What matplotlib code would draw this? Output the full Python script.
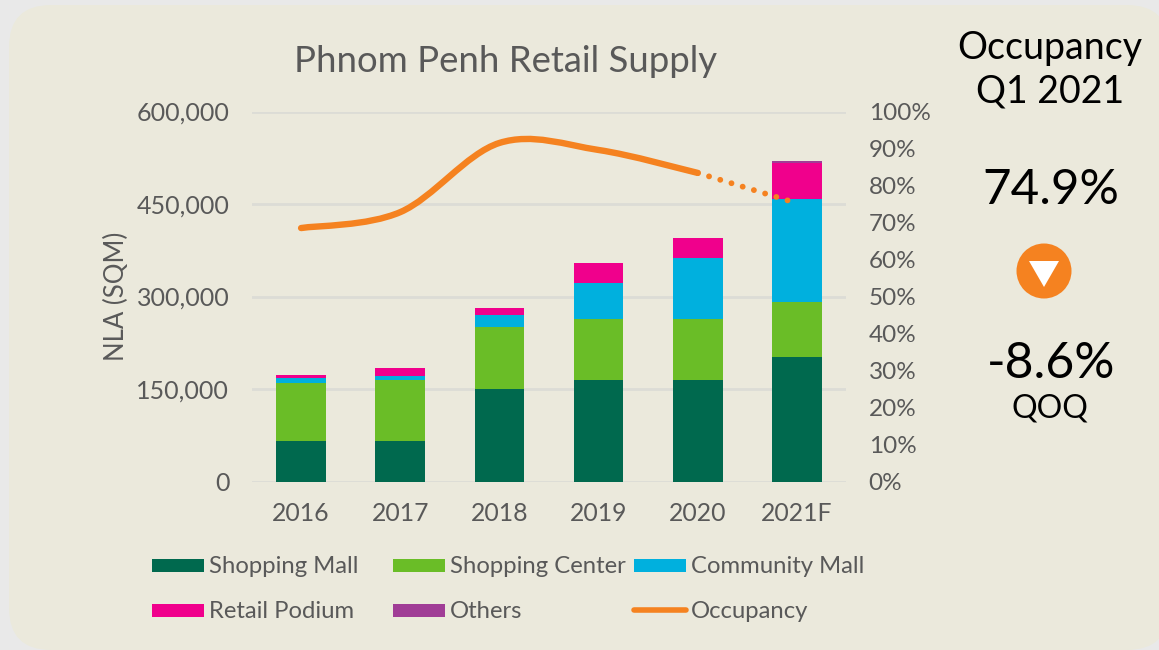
import numpy as np
import matplotlib
matplotlib.use("Agg")
import matplotlib.pyplot as plt
from matplotlib.patches import FancyBboxPatch, Rectangle, Circle, Polygon, PathPatch
from matplotlib.lines import Line2D
from matplotlib.path import Path

plt.rcParams['font.family'] = ['Lato', 'DejaVu Sans']

W, H = 1159, 650

years = ["2016", "2017", "2018", "2019", "2020", "2021F"]
shopping_mall = [65000, 65000, 150000, 165000, 165000, 202000]
shopping_center = [95000, 99000, 100000, 99000, 99000, 89000]
community_mall = [8000, 7000, 20000, 58000, 99000, 167000]
retail_podium = [4000, 13000, 12000, 33000, 32000, 59000]
others = [0, 0, 0, 0, 0, 3000]
occupancy = [0.685, 0.728, 0.915, 0.896, 0.834, 0.752]

series_names = ["Shopping Mall", "Shopping Center", "Community Mall", "Retail Podium", "Others"]
series_values = [shopping_mall, shopping_center, community_mall, retail_podium, others]
series_colors = ["#00694e", "#6abd27", "#00b0de", "#f0008c", "#a03d96"]

left_ticks = [0, 150000, 300000, 450000, 600000]
right_ticks = [i / 10 for i in range(11)]

GREY = "#595959"
ORANGE = "#f58220"


def px_x(x):
    return x / W


def px_y(y):
    return 1 - y / H


def smooth_path(xs, ys):
    # same kind of smoothed line excel draws
    verts = [(xs[0], ys[0])]
    codes = [Path.MOVETO]
    n = len(xs)
    for i in range(n - 1):
        x0, y0 = (xs[i - 1], ys[i - 1]) if i > 0 else (xs[i], ys[i])
        x3, y3 = (xs[i + 2], ys[i + 2]) if i + 2 < n else (xs[i + 1], ys[i + 1])
        c1 = (xs[i] + (xs[i + 1] - x0) / 6, ys[i] + (ys[i + 1] - y0) / 6)
        c2 = (xs[i + 1] - (x3 - xs[i]) / 6, ys[i + 1] - (y3 - ys[i]) / 6)
        verts += [c1, c2, (xs[i + 1], ys[i + 1])]
        codes += [Path.CURVE4] * 3
    return Path(verts, codes)


fig = plt.figure(figsize=(W / 100, H / 100), dpi=100, facecolor="#e9e9e9")

# Pixel space layer behind the chart for the rounded panel
bg = fig.add_axes([0, 0, 1, 1], zorder=-1)
bg.set_xlim(0, W)
bg.set_ylim(H, 0)
bg.axis("off")
bg.add_patch(FancyBboxPatch((9, 5), 1160, 645, boxstyle="round,pad=0,rounding_size=42",
                            facecolor="#ebe9dc", edgecolor="none"))

ax = fig.add_axes([px_x(251.5), px_y(481.5), 595 / W, 370 / H])
ax.patch.set_alpha(0)

# Stacked bars
x = np.arange(len(years))
bottom = np.zeros(len(years))
for name, vals, color in zip(series_names, series_values, series_colors):
    ax.bar(x, vals, width=0.5, bottom=bottom, color=color, label=name, zorder=3)
    bottom += np.array(vals)

ax.set_xlim(-0.5, 5.5)
ax.set_ylim(0, 600000)
ax.set_yticks(left_ticks)
ax.set_yticklabels([f"{v:,}" for v in left_ticks])
ax.set_xticks(x)
ax.set_xticklabels(years)
ax.set_ylabel("NLA (SQM)", fontsize=18.5, color=GREY, labelpad=5)
ax.tick_params(axis="y", length=0, labelsize=18, labelcolor=GREY, pad=16)
ax.tick_params(axis="x", length=0, labelsize=17.8, labelcolor=GREY, pad=15)
ax.grid(axis="y", color="#dcdcd6", linewidth=2, zorder=0)
ax.set_axisbelow(True)
for s in ax.spines.values():
    s.set_visible(False)

# Occupancy on second axis
ax2 = ax.twinx()
ax2.set_ylim(0, 1)
ax2.set_yticks(right_ticks)
ax2.set_yticklabels([f"{int(round(v * 100))}%" for v in right_ticks])
ax2.tick_params(axis="y", length=0, labelsize=17.5, labelcolor=GREY, pad=16)
for s in ax2.spines.values():
    s.set_visible(False)

ax2.add_patch(PathPatch(smooth_path(list(x[:5]), occupancy[:5]), facecolor="none",
                        edgecolor=ORANGE, linewidth=4.6, capstyle="round", zorder=5))
ax2.plot(x[4:], occupancy[4:], color=ORANGE, linewidth=4.2, zorder=5,
         linestyle=(2.0, (0.01, 2.0)), dash_capstyle="round")

# Title
fig.text(px_x(506), px_y(61), "Phnom Penh Retail Supply", fontsize=26.3, color=GREY,
         ha="center", va="center")

# Legend
legend_x = [152, 393, 634, 152, 393, 634]
legend_y = [565, 565, 565, 610, 610, 610]
for i, (name, color) in enumerate(zip(series_names, series_colors)):
    fig.add_artist(Rectangle((px_x(legend_x[i]), px_y(legend_y[i] + 6.5)), 52 / W, 13 / H,
                             transform=fig.transFigure, facecolor=color, edgecolor="none"))
    fig.text(px_x(legend_x[i] + 57), px_y(legend_y[i] + 1.5), name, fontsize=17.2, color=GREY, va="center")
fig.add_artist(Line2D([px_x(634), px_x(686)], [px_y(610), px_y(610)], transform=fig.transFigure,
                      color=ORANGE, linewidth=4, solid_capstyle="round"))
fig.text(px_x(691), px_y(611.5), "Occupancy", fontsize=17.2, color=GREY, va="center")

# Right hand side callout
fig.text(px_x(1050), px_y(48), "Occupancy", fontsize=27, color="black", ha="center", va="center")
fig.text(px_x(1050), px_y(92), "Q1 2021", fontsize=27, color="black", ha="center", va="center")
fig.text(px_x(1051), px_y(190), "74.9%", fontsize=35.5, color="black", ha="center", va="center")
fig.text(px_x(1051), px_y(364), "-8.6%", fontsize=36, color="black", ha="center", va="center")
fig.text(px_x(1050), px_y(408), "QOQ", fontsize=23, color="black", ha="center", va="center")

# Down arrow badge, drawn in pixel space
overlay = fig.add_axes([0, 0, 1, 1])
overlay.set_xlim(0, W)
overlay.set_ylim(H, 0)
overlay.axis("off")
overlay.patch.set_alpha(0)
overlay.add_patch(Circle((1044, 271), 27.5, facecolor=ORANGE, edgecolor="none"))
overlay.add_patch(Polygon([(1029, 261), (1059, 261), (1044, 287)], facecolor="white", edgecolor="none"))

fig.savefig("out.png", dpi=100, facecolor=fig.get_facecolor())
